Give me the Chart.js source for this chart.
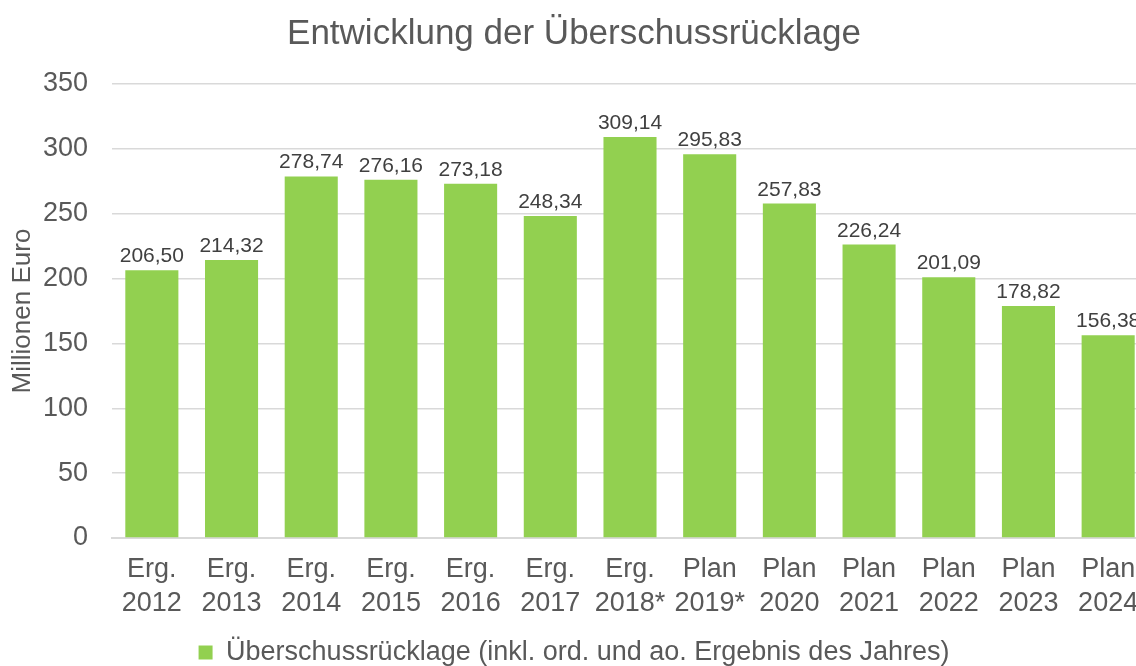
<!DOCTYPE html>
<html lang="de">
<head>
    <meta charset="UTF-8">
    <title>Entwicklung der Überschussrücklage</title>
    <script src="https://cdn.jsdelivr.net/npm/chart.js"></script>
    <style>
        body { margin: 0; overflow: hidden; background: #fff; }
        #wrap { width: 1148px; height: 666px; }
    </style>
</head>
<body>
    <div id="wrap">
        <canvas id="grafico"></canvas>
    </div>
    <script>
        const kategorien = [
            ["Erg.", "2012"], ["Erg.", "2013"], ["Erg.", "2014"], ["Erg.", "2015"],
            ["Erg.", "2016"], ["Erg.", "2017"], ["Erg.", "2018*"], ["Plan", "2019*"],
            ["Plan", "2020"], ["Plan", "2021"], ["Plan", "2022"], ["Plan", "2023"], ["Plan", "2024"]
        ]
        const werte = [206.50, 214.32, 278.74, 276.16, 273.18, 248.34, 309.14, 295.83, 257.83, 226.24, 201.09, 178.82, 156.38]
        const serieName = "Überschussrücklage (inkl. ord. und ao. Ergebnis des Jahres)"
        const titel = "Entwicklung der Überschussrücklage"
        const achsenTitel = "Millionen Euro"

        const grau = '#595959'
        const schrift = "'Liberation Sans', Arial, sans-serif"

        // Werte über den Balken
        const wertLabels = {
            id: 'wertLabels',
            afterDatasetsDraw(chart) {
                const c = chart.ctx
                const meta = chart.getDatasetMeta(0)
                c.save()
                c.font = '21px ' + schrift
                c.fillStyle = '#404040'
                c.textAlign = 'center'
                c.textBaseline = 'alphabetic'
                meta.data.forEach((bar, i) => {
                    const txt = werte[i].toFixed(2).replace('.', ',')
                    c.fillText(txt, bar.x, bar.y - 8)
                })
                c.restore()
            }
        }

        const ctx = document.getElementById('grafico')
        new Chart(ctx, {
            type: 'bar',
            data: {
                labels: kategorien,
                datasets: [{
                    label: serieName,
                    data: werte,
                    backgroundColor: '#92D050',
                    borderWidth: 0,
                    barPercentage: 0.666,
                    categoryPercentage: 1
                }]
            },
            options: {
                responsive: true,
                maintainAspectRatio: false,
                animation: false,
                layout: { padding: { top: 13, left: 0, right: 0, bottom: -10 } },
                plugins: {
                    title: {
                        display: true,
                        text: titel,
                        color: grau,
                        font: { family: schrift, size: 35, weight: 'normal' },
                        padding: { top: 0, bottom: 29 }
                    },
                    legend: {
                        position: 'bottom',
                        labels: {
                            color: grau,
                            font: { family: schrift, size: 27 },
                            boxWidth: 14,
                            boxHeight: 14,
                            padding: 12
                        }
                    },
                    tooltip: { enabled: false }
                },
                scales: {
                    x: {
                        grid: { display: false },
                        border: { display: true, color: '#d9d9d9', width: 2 },
                        ticks: {
                            color: grau,
                            font: { family: schrift, size: 27, lineHeight: 1.24 },
                            maxRotation: 0,
                            autoSkip: false,
                            padding: 7
                        }
                    },
                    y: {
                        min: 0,
                        max: 350,
                        border: { display: false },
                        grid: { color: '#d9d9d9', lineWidth: 1.5, drawTicks: false },
                        ticks: {
                            stepSize: 50,
                            color: grau,
                            font: { family: schrift, size: 27 },
                            padding: 24
                        },
                        title: {
                            display: true,
                            text: achsenTitel,
                            color: grau,
                            font: { family: schrift, size: 26 },
                            padding: { top: 7, bottom: 0 }
                        },
                        afterFit(scale) { scale.width = 112 }
                    }
                }
            },
            plugins: [wertLabels]
        })
    </script>
</body>
</html>
